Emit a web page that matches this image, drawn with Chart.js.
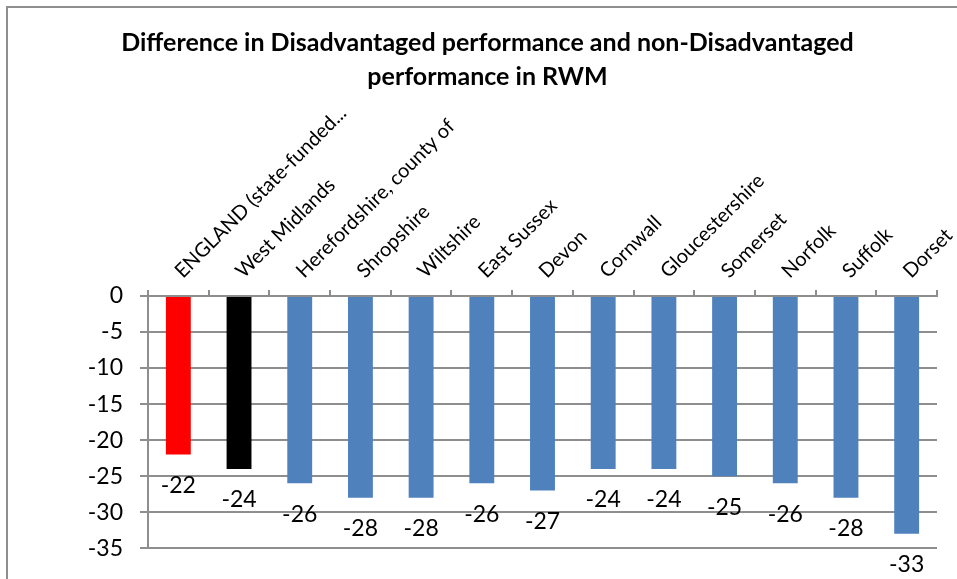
<!DOCTYPE html>
<html>
<head>
<meta charset="utf-8">
<script src="https://cdn.jsdelivr.net/npm/chart.js@4"></script>
<style>
  html, body { margin: 0; padding: 0; background: #fff; }
  #wrap { width: 957px; height: 579px; position: relative; }
</style>
</head>
<body>
<div id="wrap"><canvas id="chart"></canvas></div>
<script>
// 数据
const categories = [
  'ENGLAND (state-funded...', 'West Midlands', 'Herefordshire, county of',
  'Shropshire', 'Wiltshire', 'East Sussex', 'Devon', 'Cornwall',
  'Gloucestershire', 'Somerset', 'Norfolk', 'Suffolk', 'Dorset'
];
const gapValues = [-22, -24, -26, -28, -28, -26, -27, -24, -24, -25, -26, -28, -33];
const yTicks = [0, -5, -10, -15, -20, -25, -30, -35];
const titleLines = [
  'Difference in Disadvantaged performance and non-Disadvantaged',
  'performance in RWM'
];

const COLORS = {
  england: '#ff0000',
  region: '#000000',
  la: '#4f81bd',
  grid: '#8e8e8e'
};
const FONT = 'Lato, "Open Sans", sans-serif';

// 柱子颜色：第一根英格兰，第二根地区，其余地方
const barColors = categories.map((c, i) => i === 0 ? COLORS.england : (i === 1 ? COLORS.region : COLORS.la));

// 外框
const framePlugin = {
  id: 'frame',
  beforeDraw(chart) {
    const ctx = chart.ctx;
    ctx.save();
    ctx.strokeStyle = COLORS.grid;
    ctx.lineWidth = 2;
    ctx.strokeRect(7, 7, chart.width + 20, chart.height + 20);
    ctx.restore();
  }
};

// 数值标签（柱子下方）
const valueLabels = {
  id: 'valueLabels',
  afterDatasetsDraw(chart) {
    const ctx = chart.ctx;
    const meta = chart.getDatasetMeta(0);
    ctx.save();
    ctx.font = '23px ' + FONT;
    ctx.fillStyle = '#000';
    ctx.textAlign = 'center';
    ctx.textBaseline = 'middle';
    meta.data.forEach((bar, i) => {
      ctx.fillText(String(gapValues[i]), bar.x, bar.y + 31);
    });
    ctx.restore();
  }
};

new Chart(document.getElementById('chart'), {
  type: 'bar',
  data: {
    labels: categories,
    datasets: [{
      data: gapValues,
      backgroundColor: barColors,
      borderWidth: 0,
      barPercentage: 0.41,
      categoryPercentage: 1
    }]
  },
  options: {
    responsive: true,
    maintainAspectRatio: false,
    animation: false,
    layout: { padding: { left: 38, right: 20, top: 0, bottom: 26 } },
    plugins: {
      legend: { display: false },
      tooltip: { enabled: false },
      title: {
        display: true,
        text: titleLines,
        color: '#000',
        font: { family: FONT, size: 25, weight: 'bold', lineHeight: 34 / 25 },
        padding: { top: 26, bottom: 0 }
      }
    },
    scales: {
      x: {
        position: 'top',
        grid: {
          display: true,
          drawOnChartArea: false,
          drawTicks: true,
          tickLength: 6,
          color: COLORS.grid,
          lineWidth: 2
        },
        border: { display: true, color: COLORS.grid, width: 2 },
        ticks: {
          autoSkip: false,
          minRotation: 45,
          maxRotation: 45,
          padding: 7,
          labelOffset: 17,
          color: '#000',
          font: { family: FONT, size: 20 }
        },
        afterFit(scale) {
          scale.height = 202;
          scale.paddingLeft = 0;
          scale.paddingRight = 0;
        }
      },
      y: {
        min: -35,
        max: 0,
        afterBuildTicks(scale) {
          scale.ticks = yTicks.map(v => ({ value: v }));
        },
        grid: {
          color: COLORS.grid,
          lineWidth: 2,
          tickLength: 8
        },
        border: { display: true, color: COLORS.grid, width: 2 },
        ticks: {
          padding: 17,
          color: '#000',
          font: { family: FONT, size: 23 }
        },
        afterFit(scale) {
          scale.width = 110;
        }
      }
    }
  },
  plugins: [framePlugin, valueLabels]
});
</script>
</body>
</html>
